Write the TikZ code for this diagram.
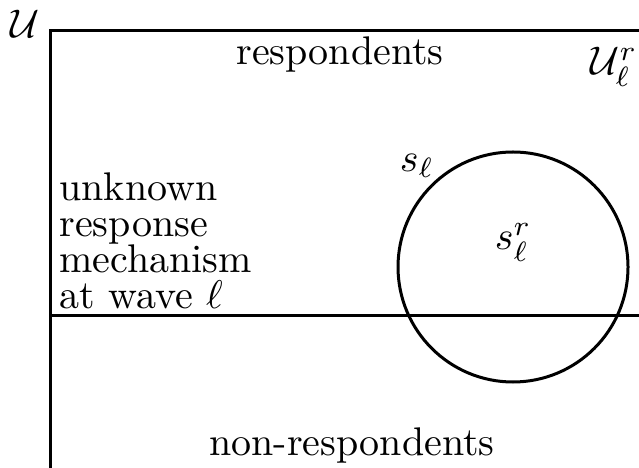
\documentclass[tikz,border=0pt]{standalone}
\usepackage{tikz}

\begin{document}
\begin{tikzpicture}[x=0.25pt,y=-0.25pt,line width=0.75pt,
    lbl/.style={inner sep=0pt,anchor=base}]
    \useasboundingbox (0,0) rectangle (639,468);
    % population frame, open to the right and below
    \coordinate (frameBL) at (50,468);
    \coordinate (frameTL) at (50,31);
    \coordinate (frameTR) at (639,31);
    \coordinate (splitL) at (50,316);
    \coordinate (splitR) at (639,316);
    \draw (frameBL) -- (frameTL) -- (frameTR);
    \draw (splitL) -- (splitR);
    
    % sample
    \node[draw,circle,minimum size=57.5pt,inner sep=0pt] (sample) at (513,267) {};
    
    % labels
    \node[lbl] (univ) at (25,38) {$\mathcal{U}$};
    \node[lbl] (univResp) at (614,75) {$\mathcal{U}_\ell^r$};
    \node[lbl] (resp) at (340,65) {respondents};
    \node[lbl] (nonResp) at (352,455) {non-respondents};
    \node[lbl] (samp) at (417,172) {$s_\ell$};
    \node[lbl] (sampResp) at (513,250) {$s_\ell^r$};
    \node[inner sep=0pt,anchor=north west,align=left,font=\fontsize{10}{9}\selectfont] (mech) at (58,171) {unknown\\response\\mechanism\\at wave $\ell$};
\end{tikzpicture}
\end{document}
